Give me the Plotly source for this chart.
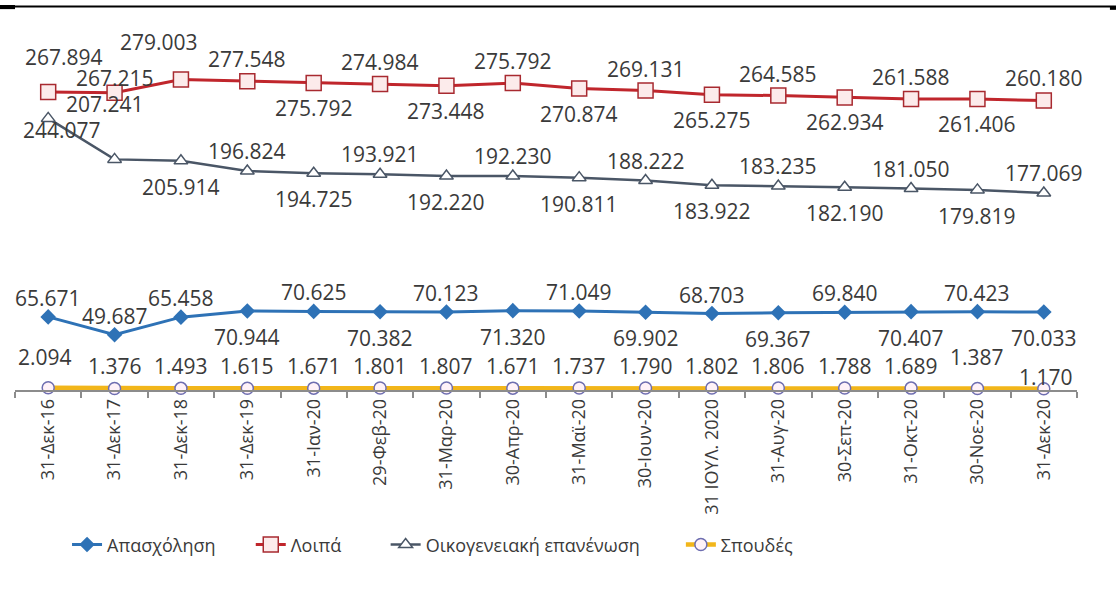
import plotly.graph_objects as go

categories = ["31-Δεκ-16", "31-Δεκ-17", "31-Δεκ-18", "31-Δεκ-19", "31-Ιαν-20", "29-Φεβ-20",
              "31-Μαρ-20", "30-Απρ-20", "31-Μαϊ-20", "30-Ιουν-20", "31 ΙΟΥΛ. 2020", "31-Αυγ-20",
              "30-Σεπ-20", "31-Οκτ-20", "30-Νοε-20", "31-Δεκ-20"]

apasxolisi = [65671, 49687, 65458, 70944, 70625, 70382, 70123, 71320, 71049, 69902,
              68703, 69367, 69840, 70407, 70423, 70033]
loipa = [267894, 267215, 279003, 277548, 275792, 274984, 273448, 275792, 270874, 269131,
         265275, 264585, 262934, 261588, 261406, 260180]
oikogeneiaki = [244077, 207241, 205914, 196824, 194725, 193921, 192220, 192230, 190811, 188222,
                183922, 183235, 182190, 181050, 179819, 177069]
spoudes = [2094, 1376, 1493, 1615, 1671, 1801, 1807, 1671, 1737, 1790,
           1802, 1806, 1788, 1689, 1387, 1170]

# label placement: U = above the point, D = below the point
side_apasx = "UUUDUDUDUDUDUDUD"
side_loipa = "UUUUDUDUDUDUDUDU"
side_oikog = "DUDUDUDUDUDUDUDU"
side_spoud = "U" * 16

FONT = "Open Sans, DejaVu Sans, sans-serif"
label_font = dict(family=FONT, size=21, color="#3A3A3A")
legend_font = dict(family=FONT, size=18, color="#3A3A3A")

fig = go.Figure()
fig.add_trace(go.Scatter(
    x=categories, y=apasxolisi, name="Απασχόληση", mode="lines+markers", legend="legend",
    line=dict(color="#2E72B6", width=3),
    marker=dict(symbol="diamond", size=12, color="#2E72B6"), cliponaxis=False))
fig.add_trace(go.Scatter(
    x=categories, y=loipa, name="Λοιπά", mode="lines+markers", legend="legend2",
    line=dict(color="#C0262C", width=3),
    marker=dict(symbol="square", size=15, color="#FCEBEB", line=dict(color="#A82A30", width=1.5)),
    cliponaxis=False))
fig.add_trace(go.Scatter(
    x=categories, y=oikogeneiaki, name="Οικογενειακή επανένωση", mode="lines+markers", legend="legend3",
    line=dict(color="#4A5666", width=2.5),
    marker=dict(symbol="triangle-up", size=12, color="#FFFFFF", line=dict(color="#4A5666", width=1.5)),
    cliponaxis=False))
fig.add_trace(go.Scatter(
    x=categories, y=spoudes, name="Σπουδές", mode="lines+markers", legend="legend4",
    line=dict(color="#F2B61A", width=4.5),
    marker=dict(symbol="circle", size=12, color="#FFF2F8", line=dict(color="#6E6EB0", width=1.5)),
    cliponaxis=False))

# (up-shift, down-shift) in pixels for each series, plus a few individual label nudges
series_labels = [
    ("apasx", apasxolisi, side_apasx, 19, -26),
    ("loipa", loipa, side_loipa, 22, -25),
    ("oikog", oikogeneiaki, side_oikog, 20, -26),
    ("spoud", spoudes, side_spoud, 22, -22),
]
nudges = {
    ("loipa", 0): (16, 35), ("loipa", 1): (0, 15), ("loipa", 2): (-22, 38),
    ("oikog", 0): (14, -12), ("oikog", 1): (-10, 55),
    ("spoud", 0): (-3, 31), ("spoud", 14): (0, 31), ("spoud", 15): (2, 12),
}

annotations = []
for key, vals, sides, up, down in series_labels:
    for i, (c, v) in enumerate(zip(categories, vals)):
        dx, dy = nudges.get((key, i), (0, up if sides[i] == "U" else down))
        annotations.append(dict(
            x=c, y=v, xref="x", yref="y", text=f"{v:,}".replace(",", "."), showarrow=False,
            xanchor="center", yanchor="middle", xshift=dx, yshift=dy, font=label_font))

def leg(x):
    return dict(orientation="h", x=x, y=-0.43, xanchor="left", yanchor="middle",
                font=legend_font, bgcolor="rgba(0,0,0,0)")

fig.update_layout(
    width=1116, height=607,
    margin=dict(l=15, r=39, t=30, b=217),
    paper_bgcolor="white", plot_bgcolor="white",
    showlegend=True,
    legend=leg(0.049),
    legend2=leg(0.222),
    legend3=leg(0.349),
    legend4=leg(0.627),
    annotations=annotations,
    xaxis=dict(type="category", range=[-0.5, 15.5], showline=True, linecolor="#8C8C8C", linewidth=1.5,
               ticks="outside", tickson="boundaries", ticklen=6, tickcolor="#8C8C8C", tickwidth=1.5,
               tickangle=-90, showgrid=False, zeroline=False, automargin=False,
               tickfont=dict(family=FONT, size=18, color="#3A3A3A")),
    yaxis=dict(visible=False, range=[0, 323500], showgrid=False, zeroline=False, automargin=False),
    shapes=[
        dict(type="line", xref="paper", yref="paper", x0=-0.0142, x1=1.0367, y0=1.0653, y1=1.0653,
             line=dict(color="black", width=2)),
        dict(type="rect", xref="paper", yref="paper", x0=-0.0142, x1=0.0, y0=1.058, y1=1.0695,
             fillcolor="black", line=dict(width=0)),
        dict(type="rect", xref="paper", yref="paper", x0=1.031, x1=1.0367, y0=1.056, y1=1.0653,
             fillcolor="black", line=dict(width=0)),
    ],
)

fig.write_html("out.html", config={"displayModeBar": False},
               post_script="document.body.style.margin='0px';")
